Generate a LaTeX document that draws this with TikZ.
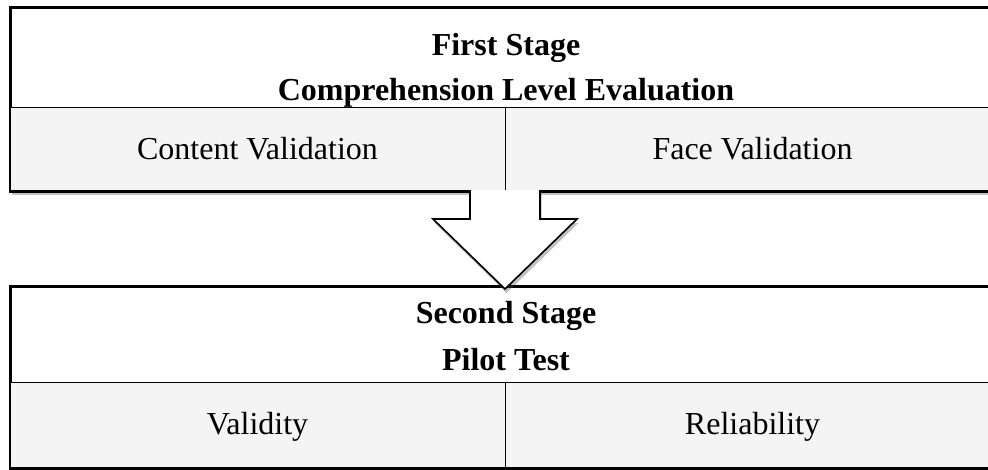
\documentclass[tikz,border=0pt]{standalone}
\usepackage{fontspec}
\setmainfont{Liberation Serif}
\usetikzlibrary{shadows}
\definecolor{cellgray}{HTML}{F4F4F4}
\begin{document}
\begin{tikzpicture}[x=1pt,y=-1pt,
  outer/.style={draw=black, line width=1.8pt},
  frame/.style={draw=black, line width=1.8pt, fill=white, inner sep=0pt, anchor=north west},
  cellbox/.style={draw=black, line width=1.2pt, fill=cellgray, inner sep=0pt, anchor=north west},
  hdrtext/.style={font=\fontsize{32}{38}\selectfont\bfseries, anchor=base, inner sep=0pt},
  celltext/.style={font=\fontsize{32}{38}\selectfont, anchor=base, inner sep=0pt},
  shade/.style={drop shadow={shadow xshift=1.5pt, shadow yshift=-4pt, opacity=0.35, fill=black!70}}]
\useasboundingbox (0,0) rectangle (988,469);
\clip (0,0) rectangle (988,469);

% first stage
\node[frame, shade, minimum width=990pt, minimum height=183pt] (s1) at (10,7) {};
\node[cellbox, minimum width=495pt, minimum height=83pt] (cv) at (10,107) {};
\node[cellbox, minimum width=495pt, minimum height=83pt] (fv) at (505,107) {};
\draw[outer] (s1.north west) rectangle (s1.south east);
\node[hdrtext] (t1a) at (506,55) {First Stage};
\node[hdrtext] (t1b) at (506,100) {Comprehension Level Evaluation};
\node[celltext] (cvt) at (257.5,159) {Content Validation};
\node[celltext] (fvt) at (752.5,159) {Face Validation};

% second stage
\node[frame, minimum width=990pt, minimum height=181pt] (s2) at (10,286) {};
\node[cellbox, minimum width=495pt, minimum height=85pt] (va) at (10,382) {};
\node[cellbox, minimum width=495pt, minimum height=85pt] (re) at (505,382) {};
\draw[outer] (s2.north west) rectangle (s2.south east);
\node[hdrtext] (t2a) at (506,323) {Second Stage};
\node[hdrtext] (t2b) at (506,370) {Pilot Test};
\node[celltext] (vat) at (257.5,434) {Validity};
\node[celltext] (ret) at (752.5,434) {Reliability};

% block arrow
\coordinate (a1) at (470,190);
\coordinate (a2) at (470,219);
\coordinate (a3) at (433,219);
\coordinate (tip) at (505,289);
\coordinate (a5) at (577,219);
\coordinate (a6) at (540,219);
\coordinate (a7) at (540,190);
\fill[white, shade] (a1) -- (a2) -- (a3) -- (tip) -- (a5) -- (a6) -- (a7) -- cycle;
\draw[black, line width=1.6pt] (a1) -- (a2) -- (a3) -- (tip) -- (a5) -- (a6) -- (a7);
\end{tikzpicture}
\end{document}
